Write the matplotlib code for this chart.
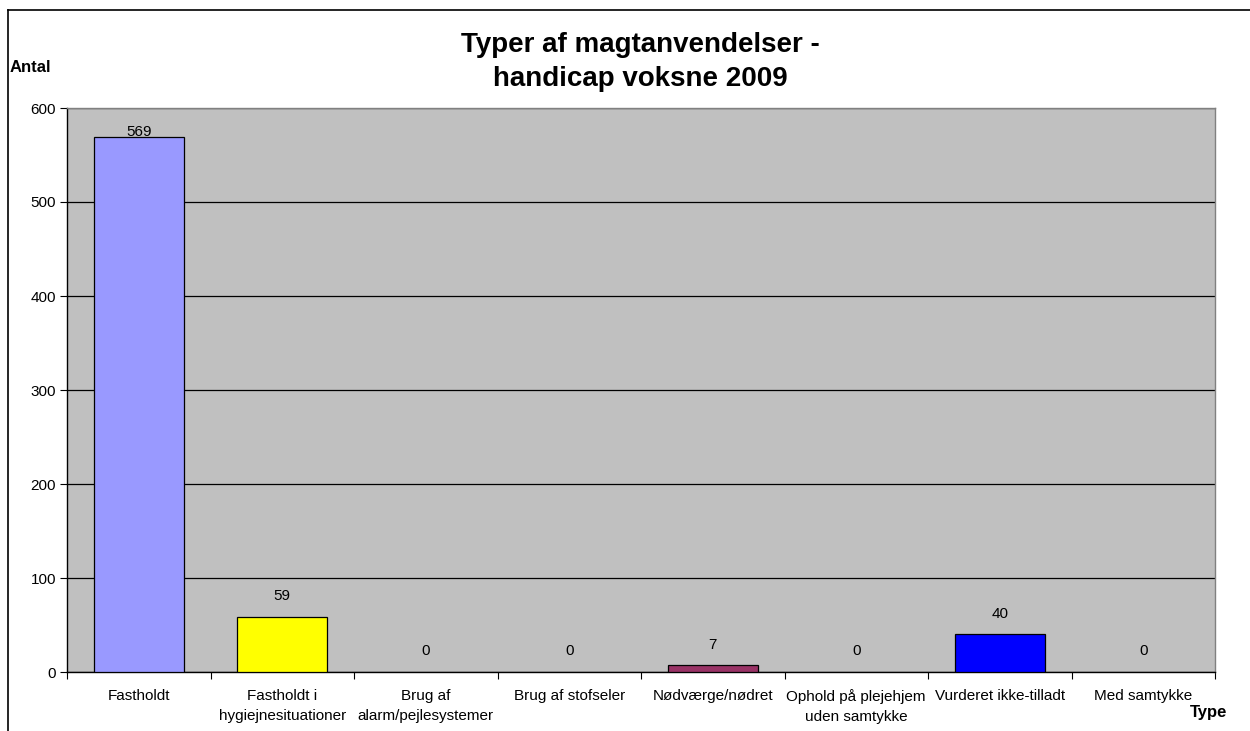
import matplotlib
matplotlib.use("Agg")
import matplotlib.pyplot as plt
from matplotlib.lines import Line2D
import numpy as np

plt.rcParams['font.family'] = ['Liberation Sans', 'DejaVu Sans']

categories = ["Fastholdt", "Fastholdt i\nhygiejnesituationer", "Brug af\nalarm/pejlesystemer",
              "Brug af stofseler", "Nødværge/nødret", "Ophold på plejehjem\nuden samtykke",
              "Vurderet ikke-tilladt", "Med samtykke"]
values = [569, 59, 0, 0, 7, 0, 40, 0]
colors = ["#9999FF", "#FFFF00", "#9999FF", "#9999FF", "#993366", "#9999FF", "#0000FF", "#9999FF"]
yticks = [0, 100, 200, 300, 400, 500, 600]

fig = plt.figure(figsize=(12.5, 7.31), dpi=100)
W, H = 1250, 731
ax = fig.add_axes([67 / W, 1 - 672 / H, (1215 - 67) / W, (672 - 108) / H])
ax.set_facecolor("#C0C0C0")

x = np.arange(len(categories))
lws = [0.9 if v > 0 else 0 for v in values]
bars = ax.bar(x, values, width=0.63, color=colors, edgecolor="black", linewidth=lws, zorder=3)

ax.set_xlim(-0.5, len(categories) - 0.5)
ax.set_ylim(0, 600)
ax.set_yticks(yticks)
ax.set_yticklabels([str(t) for t in yticks], fontsize=11)
ax.yaxis.grid(True, color="black", linewidth=0.9, zorder=1)
ax.set_axisbelow(True)

ax.set_xticks(np.arange(len(categories) + 1) - 0.5)
ax.set_xticklabels([])
ax.set_xticks(x, minor=True)
ax.set_xticklabels(categories, minor=True, fontsize=11, linespacing=1.55)
ax.tick_params(axis='x', which='minor', length=0, pad=12)
ax.tick_params(axis='x', which='major', length=5, direction='out', color='black')
ax.tick_params(axis='y', length=5, direction='out', color='black', pad=3)

for s in ['top', 'right']:
    ax.spines[s].set_color("#808080")
for s in ['left', 'bottom']:
    ax.spines[s].set_color("black")
for s in ax.spines.values():
    s.set_linewidth(1.0)

for i, v in enumerate(values):
    off = -1 if v > 500 else 10
    ax.annotate(str(v), (x[i], v), xytext=(0, off), textcoords="offset points",
                ha="center", va="bottom", fontsize=11)

fig.text(640 / W, 1 - 62 / H, "Typer af magtanvendelser -\nhandicap voksne 2009",
         ha="center", va="center", fontsize=20, fontweight="bold", linespacing=1.35)
fig.text(10 / W, 1 - 68 / H, "Antal", ha="left", va="center", fontsize=12, fontweight="bold")
fig.text(1227 / W, 1 - 712 / H, "Type", ha="right", va="center", fontsize=12, fontweight="bold")

# outer chart border (top and left visible)
fig.add_artist(Line2D([8 / W, 1.0], [1 - 10 / H, 1 - 10 / H], transform=fig.transFigure, color="black", linewidth=1.2))
fig.add_artist(Line2D([8 / W, 8 / W], [0, 1 - 10 / H], transform=fig.transFigure, color="black", linewidth=1.2))

fig.savefig("out.png", dpi=100)
